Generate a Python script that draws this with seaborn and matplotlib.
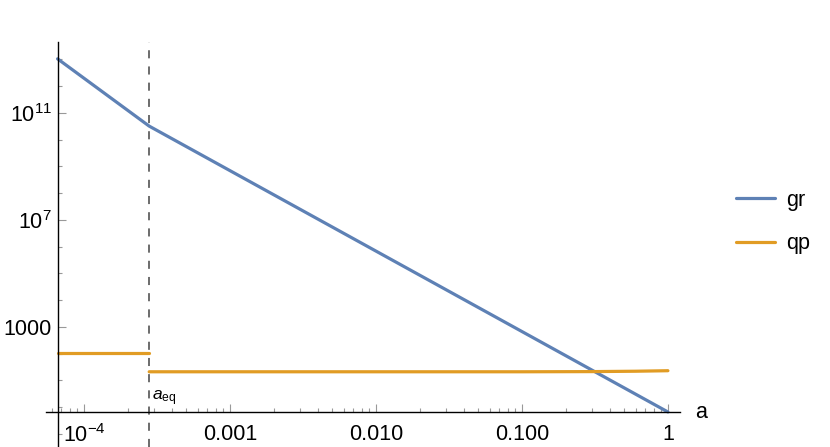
import numpy as np
import pandas as pd
import matplotlib
matplotlib.use("Agg")
import matplotlib.pyplot as plt
import matplotlib.ticker as mticker
import seaborn as sns

# values (log-log)
a_eq = 2.8e-4
gr_a = [6.6e-5, 2.8e-4, 1.0]
gr_val = [1.05e13, 3.2e10, 0.66]
qp_rad_a = [6.6e-5, 2.8e-4]
qp_rad = [107, 107]
qp_mat_a = [2.8e-4, 0.1, 0.3, 0.6, 1.0]
qp_mat = [21, 21, 21.3, 22, 23]

x_ticks = [1e-4, 1e-3, 1e-2, 1e-1, 1]
x_labels = ["$10^{-4}$", "0.001", "0.010", "0.100", "1"]
y_ticks = [1e3, 1e7, 1e11]
y_labels = ["1000", "$10^{7}$", "$10^{11}$"]

sns.set_style("white")
plt.rcParams["font.family"] = ["Liberation Sans", "DejaVu Sans"]
plt.rcParams["mathtext.fontset"] = "custom"
plt.rcParams["mathtext.rm"] = "Liberation Sans"
plt.rcParams["mathtext.it"] = "Liberation Sans:italic"
plt.rcParams["text.color"] = "black"
plt.rcParams["xtick.color"] = "#999999"
plt.rcParams["ytick.color"] = "#999999"
plt.rcParams["xtick.labelcolor"] = "black"
plt.rcParams["ytick.labelcolor"] = "black"

# long-form table; qp is split in two pieces so no jump is drawn at a_eq
df = pd.concat([
    pd.DataFrame({"a": gr_a, "val": gr_val, "series": "gr", "piece": 0}),
    pd.DataFrame({"a": qp_rad_a, "val": qp_rad, "series": "qp", "piece": 1}),
    pd.DataFrame({"a": qp_mat_a, "val": qp_mat, "series": "qp", "piece": 2}),
])

fig = plt.figure(figsize=(8.3, 4.47), dpi=100)
ax = fig.add_axes([46 / 830, 0.0, (680 - 46) / 830, 1 - 42 / 447])

sns.lineplot(data=df, x="a", y="val", hue="series", units="piece",
             estimator=None, palette=["#5E81B5", "#E19C24"],
             linewidth=2.3, ax=ax)

ax.set_xscale("log")
ax.set_yscale("log")
ax.set_xlim(5.5e-5, 1.21)
ax.set_ylim(10 ** -1.49, 10 ** 13.65)

ax.axvline(a_eq, color="#444444", lw=1.1, ls=(0, (5.3, 5.3)), zorder=1)
ax.annotate("$a_{\\rm eq}$", xy=(a_eq, 0.66), xytext=(2, 3),
            textcoords="offset points", ha="left", va="bottom", fontsize=12.5)

for s in ["top", "right"]:
    ax.spines[s].set_visible(False)
ax.spines["left"].set_position(("data", 6.6e-5))
ax.spines["bottom"].set_position(("data", 0.66))
for s in ["left", "bottom"]:
    ax.spines[s].set_color("black")
    ax.spines[s].set_linewidth(1.0)

ax.xaxis.set_major_locator(mticker.FixedLocator(x_ticks))
ax.xaxis.set_major_formatter(mticker.FixedFormatter(x_labels))
ax.xaxis.set_minor_locator(mticker.LogLocator(base=10, subs=np.arange(2, 10), numticks=20))
ax.xaxis.set_minor_formatter(mticker.NullFormatter())
ax.yaxis.set_major_locator(mticker.FixedLocator(y_ticks))
ax.yaxis.set_major_formatter(mticker.FixedFormatter(y_labels))
ax.yaxis.set_minor_locator(mticker.LogLocator(base=10, subs=(1.0,), numticks=40))
ax.yaxis.set_minor_formatter(mticker.NullFormatter())

ax.tick_params(which="both", bottom=True, left=True, direction="in",
               width=0.8, labelsize=15.5)
ax.tick_params(which="major", length=5.5)
ax.tick_params(which="minor", length=3)
ax.tick_params(axis="x", which="major", pad=9)
ax.tick_params(axis="y", which="major", pad=4)
ax.set_xlabel("")
ax.set_ylabel("")

fig.text(701 / 830, 1 - 413 / 447, "a", ha="center", va="center", fontsize=15.5)

handles, labels = ax.get_legend_handles_labels()
leg = ax.legend(handles, labels, loc="center left", frameon=False, fontsize=15.5,
                bbox_to_anchor=(736 / 830, 1 - 222 / 447), bbox_transform=fig.transFigure,
                handlelength=1.8, handletextpad=0.55, labelspacing=1.05,
                borderpad=0, borderaxespad=0)

fig.savefig("out.png", dpi=100)
